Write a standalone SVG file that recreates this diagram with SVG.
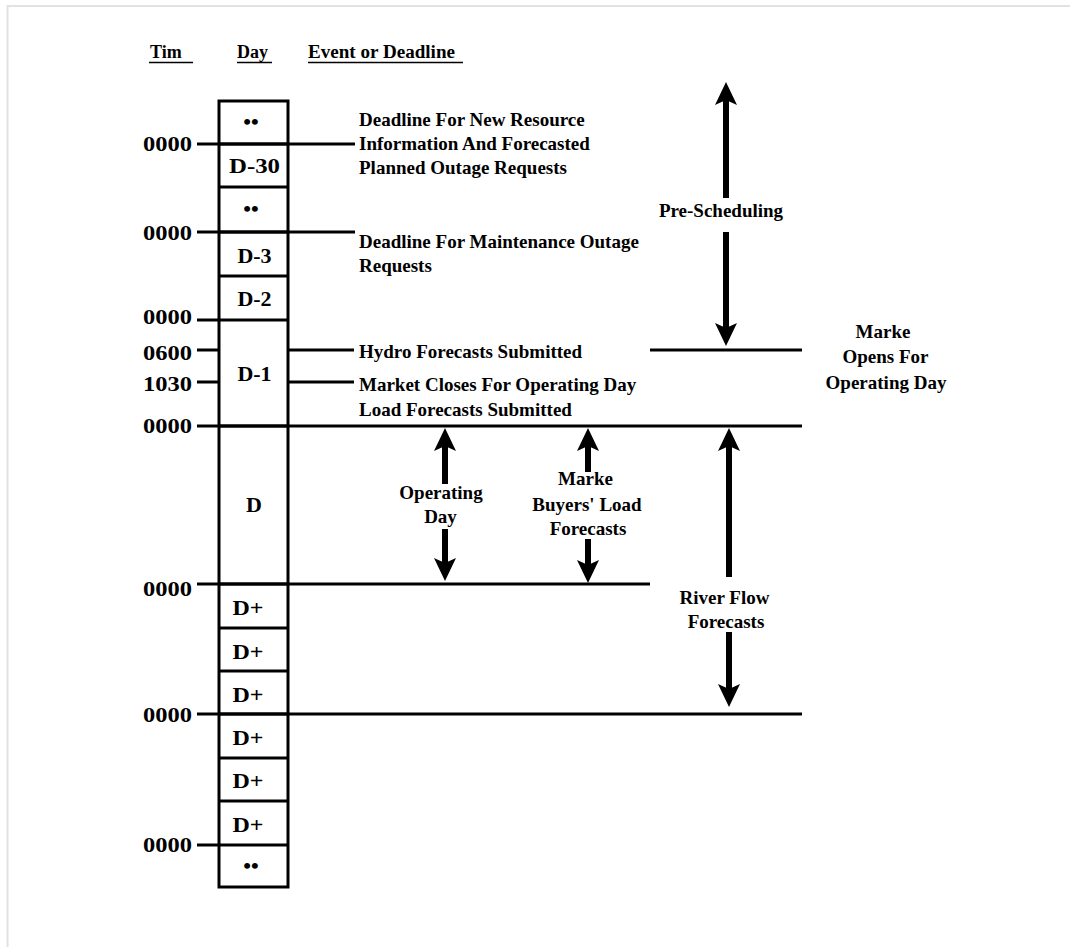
<svg xmlns="http://www.w3.org/2000/svg" xmlns:xlink="http://www.w3.org/1999/xlink" width="1070" height="947" viewBox="0 0 1070 947">
<style>
text{font-family:"Liberation Serif","Times New Roman",serif;font-weight:bold;fill:#000}
.hd{font-size:18px}
.tm{font-size:21px;text-anchor:end}
.dy{font-size:22px;text-anchor:middle}
.ev{font-size:19px}
.lb{font-size:19px;text-anchor:middle}
.ln{stroke:#000;stroke-width:3;fill:none}
.ul{stroke:#000;stroke-width:1.6}
.sh{stroke:#000;stroke-width:6}
.frame{stroke:#e2e2e2;stroke-width:2;fill:none}
</style>
<defs>
<polygon id="ahUp" points="0,0 11,23 0,18 -11,23" fill="#000"/>
<polygon id="ahDn" points="0,0 11,-23 0,-18 -11,-23" fill="#000"/>
</defs>
<rect width="1070" height="947" fill="#fff"/>
<path class="frame" d="M7.5,947 V6 H1070"/>

<g id="headers">
<text class="hd" x="150" y="58">Tim</text>
<text class="hd" x="237" y="58">Day</text>
<text class="hd" x="308" y="58" textLength="147" lengthAdjust="spacingAndGlyphs">Event or Deadline</text>
<line class="ul" x1="149" y1="62.5" x2="193" y2="62.5"/>
<line class="ul" x1="237" y1="62.5" x2="272" y2="62.5"/>
<line class="ul" x1="308" y1="62.5" x2="463" y2="62.5"/>
</g>

<g id="day-column">
<rect class="ln" x="219" y="101" width="69" height="786"/>
<path class="ln" d="M219,144H288 M219,187H288 M219,232H288 M219,276H288 M219,320H288 M219,426H288 M219,584H288 M219,628H288 M219,671H288 M219,714H288 M219,758H288 M219,801H288 M219,845H288"/>
</g>

<g id="day-labels">
<text class="dy" x="251" y="129" font-size="20">••</text>
<text class="dy" x="254.5" y="173" textLength="51" lengthAdjust="spacingAndGlyphs">D-30</text>
<text class="dy" x="251" y="216" font-size="20">••</text>
<text class="dy" x="254.5" y="263">D-3</text>
<text class="dy" x="254.5" y="306">D-2</text>
<text class="dy" x="254.5" y="381">D-1</text>
<text class="dy" x="254" y="512">D</text>
<text class="dy" x="248" y="615" textLength="31" lengthAdjust="spacingAndGlyphs">D+</text>
<text class="dy" x="248" y="659" textLength="31" lengthAdjust="spacingAndGlyphs">D+</text>
<text class="dy" x="248" y="702" textLength="31" lengthAdjust="spacingAndGlyphs">D+</text>
<text class="dy" x="248" y="745" textLength="31" lengthAdjust="spacingAndGlyphs">D+</text>
<text class="dy" x="248" y="788" textLength="31" lengthAdjust="spacingAndGlyphs">D+</text>
<text class="dy" x="248" y="832" textLength="31" lengthAdjust="spacingAndGlyphs">D+</text>
<text class="dy" x="251" y="873" font-size="20">••</text>
</g>

<g id="time-labels">
<text class="tm" x="192" y="151" textLength="49" lengthAdjust="spacingAndGlyphs">0000</text>
<text class="tm" x="192" y="240" textLength="49" lengthAdjust="spacingAndGlyphs">0000</text>
<text class="tm" x="192" y="324" textLength="49" lengthAdjust="spacingAndGlyphs">0000</text>
<text class="tm" x="192" y="360" textLength="49" lengthAdjust="spacingAndGlyphs">0600</text>
<text class="tm" x="192" y="391" textLength="49" lengthAdjust="spacingAndGlyphs">1030</text>
<text class="tm" x="192" y="433" textLength="49" lengthAdjust="spacingAndGlyphs">0000</text>
<text class="tm" x="192" y="596" textLength="49" lengthAdjust="spacingAndGlyphs">0000</text>
<text class="tm" x="192" y="722" textLength="49" lengthAdjust="spacingAndGlyphs">0000</text>
<text class="tm" x="192" y="852" textLength="49" lengthAdjust="spacingAndGlyphs">0000</text>
</g>

<g id="events">
<text class="ev" x="359" y="126">Deadline For New Resource</text>
<text class="ev" x="359" y="150">Information And Forecasted</text>
<text class="ev" x="359" y="174">Planned Outage Requests</text>
<text class="ev" x="359" y="248">Deadline For Maintenance Outage</text>
<text class="ev" x="359" y="272">Requests</text>
<text class="ev" x="359" y="358">Hydro Forecasts Submitted</text>
<text class="ev" x="359" y="391">Market Closes For Operating Day</text>
<text class="ev" x="359" y="416">Load Forecasts Submitted</text>
</g>

<g id="connectors">
<path class="ln" d="M197,144H355 M197,232H355 M197,320H219 M197,350H219 M288,350H354 M650,350H802 M197,382H219 M288,382H354 M197,426H802 M197,584H650 M197,714H802 M197,845H219"/>
<g id="arrow-prescheduling">
<line class="sh" x1="726" y1="100" x2="726" y2="198"/>
<line class="sh" x1="726" y1="232" x2="726" y2="328"/>
<use xlink:href="#ahUp" x="726" y="82"/>
<use xlink:href="#ahDn" x="726" y="346"/>
</g>
<g id="arrow-operating-day">
<line class="sh" x1="445" y1="445" x2="445" y2="484"/>
<line class="sh" x1="445" y1="529" x2="445" y2="564"/>
<use xlink:href="#ahUp" x="445" y="428"/>
<use xlink:href="#ahDn" x="445" y="581"/>
</g>
<g id="arrow-buyers">
<line class="sh" x1="588" y1="445" x2="588" y2="472"/>
<line class="sh" x1="588" y1="539" x2="588" y2="566"/>
<use xlink:href="#ahUp" x="588" y="428"/>
<use xlink:href="#ahDn" x="588" y="583"/>
</g>
<g id="arrow-river">
<line class="sh" x1="729" y1="445" x2="729" y2="577"/>
<line class="sh" x1="729" y1="632" x2="729" y2="690"/>
<use xlink:href="#ahUp" x="729" y="428"/>
<use xlink:href="#ahDn" x="729" y="707"/>
</g>
</g>

<g id="label-prescheduling">
<text class="lb" x="721" y="217">Pre-Scheduling</text>
</g>
<g id="label-market-opens">
<text class="lb" x="883" y="338">Marke</text>
<text class="lb" x="885.5" y="363">Opens For</text>
<text class="lb" x="886" y="389">Operating Day</text>
</g>
<g id="label-operating-day">
<text class="lb" x="441" y="499">Operating</text>
<text class="lb" x="440.5" y="523">Day</text>
</g>
<g id="label-buyers">
<text class="lb" x="585.5" y="485">Marke</text>
<text class="lb" x="587" y="510.5">Buyers' Load</text>
<text class="lb" x="588" y="535">Forecasts</text>
</g>
<g id="label-river">
<text class="lb" x="724.5" y="604">River Flow</text>
<text class="lb" x="726" y="628">Forecasts</text>
</g>
</svg>
